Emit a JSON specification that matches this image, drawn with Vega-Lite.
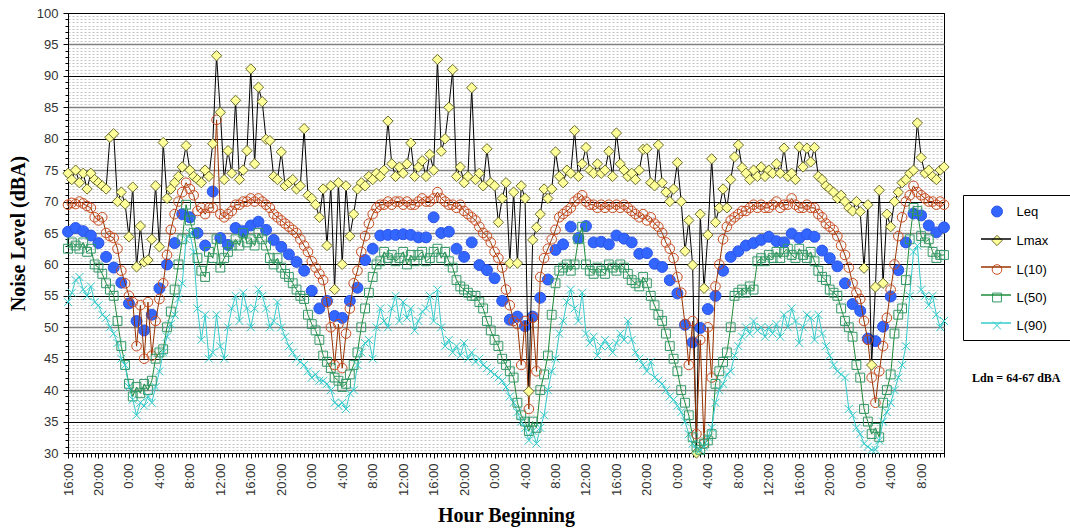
{
"$schema":"https://vega.github.io/schema/vega-lite/v6.json",
"width":876,"height":440,
"autosize":{"type":"none"},
"padding":{"left":68,"top":13,"right":126,"bottom":76},
"background":"white",
"config":{
 "view":{"stroke":"black","strokeWidth":1},
 "axis":{"labelFont":"Liberation Sans","labelFontSize":13,"labelColor":"#333333","titleFont":"Liberation Serif","titleFontWeight":"bold","titleFontSize":20,"titleColor":"black","domainColor":"black","tickColor":"black"},
 "legend":{"labelFont":"Liberation Sans","labelFontSize":13,"labelColor":"black"}
},
"data":{"values":[
{"h":0,"Leq":65.2,"Lmax":74.5,"L10":69.5,"L50":62.5,"L90":54},
{"h":0.5,"Lmax":73.5,"L10":69.8,"L50":63.5,"L90":55.5},
{"h":1,"Leq":65.8,"Lmax":75,"L10":69.6,"L50":63,"L90":57.5},
{"h":1.5,"Lmax":73,"L10":70,"L50":62.5,"L90":58},
{"h":2,"Leq":65.3,"Lmax":74.5,"L10":69.7,"L50":63.5,"L90":56},
{"h":2.5,"Lmax":72,"L10":69.3,"L50":62,"L90":55},
{"h":3,"Leq":64.6,"Lmax":74.5,"L10":69,"L50":62.5,"L90":56.5},
{"h":3.5,"Lmax":73.5,"L10":67.5,"L50":60,"L90":54},
{"h":4,"Leq":63.4,"Lmax":73,"L10":67,"L50":59.5,"L90":53.5},
{"h":4.5,"Lmax":72.5,"L10":67.5,"L50":58.5,"L90":52},
{"h":5,"Leq":61.2,"Lmax":72,"L10":65,"L50":57,"L90":51.5},
{"h":5.5,"Lmax":80.2,"L10":64.5,"L50":56,"L90":50},
{"h":6,"Leq":59.5,"Lmax":80.8,"L10":64.2,"L50":55,"L90":49},
{"h":6.5,"Lmax":70,"L10":62.5,"L50":51,"L90":47.5},
{"h":7,"Leq":57.1,"Lmax":71.5,"L10":59,"L50":47,"L90":45},
{"h":7.5,"Lmax":69.6,"L10":57,"L50":44,"L90":44},
{"h":8,"Leq":53.8,"Lmax":64.4,"L10":55,"L50":41,"L90":40.5},
{"h":8.5,"Lmax":72.3,"L10":54,"L50":39,"L90":38.5},
{"h":9,"Leq":51.0,"Lmax":59.6,"L10":47,"L50":40.5,"L90":36},
{"h":9.5,"Lmax":66.1,"L10":53.5,"L50":39.5,"L90":38},
{"h":10,"Leq":49.5,"Lmax":60.4,"L10":45,"L50":41,"L90":37.5},
{"h":10.5,"Lmax":60.7,"L10":54,"L50":40,"L90":39},
{"h":11,"Leq":52.0,"Lmax":64,"L10":45.5,"L50":41.5,"L90":38},
{"h":11.5,"Lmax":72.5,"L10":51,"L50":45,"L90":40.5},
{"h":12,"Leq":56.2,"Lmax":62.8,"L10":54.5,"L50":46,"L90":43},
{"h":12.5,"Lmax":79.4,"L10":57,"L50":46.5,"L90":46},
{"h":13,"Leq":60.0,"Lmax":70.5,"L10":61.5,"L50":50,"L90":48.5},
{"h":13.5,"Lmax":72,"L10":65.5,"L50":52.5,"L90":50.5},
{"h":14,"Leq":63.4,"Lmax":73,"L10":68,"L50":56,"L90":52},
{"h":14.5,"Lmax":74,"L10":70,"L50":60,"L90":54.5},
{"h":15,"Leq":68.0,"Lmax":75.5,"L10":71.5,"L50":64,"L90":57},
{"h":15.5,"Lmax":78.9,"L10":73,"L50":69.5,"L90":64},
{"h":16,"Leq":67.5,"Lmax":75,"L10":72,"L50":67,"L90":65},
{"h":16.5,"Lmax":74,"L10":71,"L50":65,"L90":62},
{"h":17,"Leq":65.0,"Lmax":73.5,"L10":68.5,"L50":61,"L90":53},
{"h":17.5,"Lmax":73,"L10":69,"L50":59,"L90":48},
{"h":18,"Leq":63.0,"Lmax":75,"L10":68,"L50":58,"L90":52},
{"h":18.5,"Lmax":74,"L10":69,"L50":62,"L90":45},
{"h":19,"Leq":71.6,"Lmax":79.2,"L10":69,"L50":61,"L90":46},
{"h":19.5,"Lmax":93.2,"L10":83,"L50":64,"L90":52},
{"h":20,"Leq":64.2,"Lmax":84.2,"L10":68,"L50":59.5,"L90":47},
{"h":20.5,"Lmax":73.5,"L10":67.5,"L50":61,"L90":45},
{"h":21,"Leq":63.1,"Lmax":78.1,"L10":68,"L50":62,"L90":50},
{"h":21.5,"Lmax":74.5,"L10":68.5,"L50":63,"L90":53},
{"h":22,"Leq":65.8,"Lmax":86.1,"L10":69.5,"L50":64,"L90":55},
{"h":22.5,"Lmax":73.5,"L10":69.5,"L50":63,"L90":51},
{"h":23,"Leq":65.3,"Lmax":75,"L10":70,"L50":65,"L90":55.5},
{"h":23.5,"Lmax":78.1,"L10":70,"L50":63.5,"L90":53},
{"h":24,"Leq":66.2,"Lmax":91.1,"L10":70.5,"L50":64,"L90":50},
{"h":24.5,"Lmax":76,"L10":70,"L50":63,"L90":53},
{"h":25,"Leq":66.8,"Lmax":88.2,"L10":70.5,"L50":65,"L90":56},
{"h":25.5,"Lmax":85.9,"L10":70,"L50":64,"L90":55},
{"h":26,"Leq":65.5,"Lmax":79.9,"L10":69.5,"L50":63,"L90":53},
{"h":26.5,"Lmax":79.7,"L10":69,"L50":61,"L90":50},
{"h":27,"Leq":63.9,"Lmax":74,"L10":68,"L50":60,"L90":51},
{"h":27.5,"Lmax":73.5,"L10":67.5,"L50":61,"L90":54},
{"h":28,"Leq":62.8,"Lmax":77.9,"L10":67,"L50":59.5,"L90":50},
{"h":28.5,"Lmax":72.5,"L10":66.5,"L50":58.5,"L90":48.5},
{"h":29,"Leq":61.6,"Lmax":73,"L10":66,"L50":58,"L90":47},
{"h":29.5,"Lmax":73.5,"L10":65.5,"L50":57,"L90":46},
{"h":30,"Leq":60.4,"Lmax":72,"L10":65,"L50":56,"L90":45},
{"h":30.5,"Lmax":72.5,"L10":64,"L50":55,"L90":44.5},
{"h":31,"Leq":59.0,"Lmax":81.6,"L10":63,"L50":54.5,"L90":44},
{"h":31.5,"Lmax":71,"L10":62,"L50":52,"L90":43},
{"h":32,"Leq":55.8,"Lmax":70.5,"L10":60.5,"L50":50.5,"L90":42},
{"h":32.5,"Lmax":69.5,"L10":59.5,"L50":49.5,"L90":42.5},
{"h":33,"Leq":53.0,"Lmax":67.5,"L10":58.5,"L50":48,"L90":41.5},
{"h":33.5,"Lmax":72,"L10":57.5,"L50":45.5,"L90":41.5},
{"h":34,"Leq":54.2,"Lmax":63,"L10":54,"L50":44.5,"L90":41},
{"h":34.5,"Lmax":72.5,"L10":50,"L50":43.5,"L90":40},
{"h":35,"Leq":51.8,"Lmax":56,"L10":44,"L50":42,"L90":38},
{"h":35.5,"Lmax":73,"L10":50.5,"L50":41.5,"L90":37.5},
{"h":36,"Leq":51.5,"Lmax":60,"L10":43.5,"L50":40.5,"L90":38},
{"h":36.5,"Lmax":72.5,"L10":49,"L50":41,"L90":37},
{"h":37,"Leq":54.2,"Lmax":64.5,"L10":53,"L50":42.5,"L90":39.5},
{"h":37.5,"Lmax":68,"L10":57,"L50":44,"L90":40},
{"h":38,"Leq":56.3,"Lmax":72,"L10":59,"L50":46,"L90":44},
{"h":38.5,"Lmax":73,"L10":62,"L50":50,"L90":46},
{"h":39,"Leq":60.7,"Lmax":72.5,"L10":64.5,"L50":53,"L90":47.5},
{"h":39.5,"Lmax":74,"L10":66.5,"L50":55.5,"L90":48},
{"h":40,"Leq":62.5,"Lmax":73.5,"L10":68,"L50":58,"L90":45},
{"h":40.5,"Lmax":74.5,"L10":69,"L50":60,"L90":50},
{"h":41,"Leq":64.6,"Lmax":74,"L10":69.5,"L50":60.5,"L90":53},
{"h":41.5,"Lmax":75,"L10":69.5,"L50":62,"L90":51},
{"h":42,"Leq":64.7,"Lmax":82.8,"L10":70,"L50":61,"L90":50},
{"h":42.5,"Lmax":76,"L10":69.5,"L50":61.5,"L90":53},
{"h":43,"Leq":64.7,"Lmax":74,"L10":70,"L50":60.5,"L90":55},
{"h":43.5,"Lmax":75.5,"L10":70,"L50":61,"L90":51},
{"h":44,"Leq":64.8,"Lmax":74.5,"L10":69.5,"L50":62,"L90":54},
{"h":44.5,"Lmax":76,"L10":70,"L50":60,"L90":51.5},
{"h":45,"Leq":64.7,"Lmax":79.3,"L10":69.5,"L50":61.5,"L90":53},
{"h":45.5,"Lmax":74,"L10":69.5,"L50":60.5,"L90":49.5},
{"h":46,"Leq":64.3,"Lmax":75.5,"L10":70,"L50":61.5,"L90":51},
{"h":46.5,"Lmax":76.5,"L10":70.5,"L50":62,"L90":52.5},
{"h":47,"Leq":64.3,"Lmax":74,"L10":70,"L50":60.5,"L90":53},
{"h":47.5,"Lmax":77.5,"L10":70,"L50":61,"L90":55},
{"h":48,"Leq":67.5,"Lmax":75,"L10":70.5,"L50":62,"L90":51},
{"h":48.5,"Lmax":92.6,"L10":71.5,"L50":62.5,"L90":56},
{"h":49,"Leq":65.0,"Lmax":78,"L10":70.5,"L50":61,"L90":50},
{"h":49.5,"Lmax":80,"L10":70,"L50":62,"L90":47},
{"h":50,"Leq":65.2,"Lmax":85,"L10":69.5,"L50":60.5,"L90":48},
{"h":50.5,"Lmax":91,"L10":69.5,"L50":59.5,"L90":46},
{"h":51,"Leq":62.5,"Lmax":74,"L10":69,"L50":57.5,"L90":47},
{"h":51.5,"Lmax":75.5,"L10":69.5,"L50":56.5,"L90":45.5},
{"h":52,"Leq":61.2,"Lmax":73,"L10":68.5,"L50":56,"L90":47.5},
{"h":52.5,"Lmax":74,"L10":68,"L50":55.5,"L90":45},
{"h":53,"Leq":63.5,"Lmax":88.1,"L10":67.5,"L50":55,"L90":46},
{"h":53.5,"Lmax":73.5,"L10":67,"L50":55,"L90":44.5},
{"h":54,"Leq":59.9,"Lmax":74.5,"L10":66,"L50":54,"L90":45},
{"h":54.5,"Lmax":72.5,"L10":65,"L50":53,"L90":44},
{"h":55,"Leq":59.1,"Lmax":78.4,"L10":64.5,"L50":51,"L90":43.5},
{"h":55.5,"Lmax":73,"L10":63.5,"L50":49.5,"L90":43},
{"h":56,"Leq":57.8,"Lmax":72.5,"L10":62,"L50":48,"L90":42.5},
{"h":56.5,"Lmax":66.7,"L10":61,"L50":47,"L90":42},
{"h":57,"Leq":54.2,"Lmax":70.5,"L10":59.5,"L50":45,"L90":41.5},
{"h":57.5,"Lmax":73,"L10":56,"L50":44,"L90":40.5},
{"h":58,"Leq":51.2,"Lmax":60.2,"L10":53.5,"L50":43,"L90":39},
{"h":58.5,"Lmax":71.5,"L10":51,"L50":42,"L90":38},
{"h":59,"Leq":51.7,"Lmax":60.2,"L10":50.5,"L50":38,"L90":36.5},
{"h":59.5,"Lmax":72.5,"L10":44,"L50":36,"L90":35},
{"h":60,"Leq":50.2,"Lmax":70.5,"L10":51,"L50":35,"L90":34},
{"h":60.5,"Lmax":39.8,"L10":37,"L50":33.5,"L90":32},
{"h":61,"Leq":51.7,"Lmax":63.9,"L10":51.5,"L50":35,"L90":33.5},
{"h":61.5,"Lmax":65.9,"L10":43,"L50":34,"L90":31.5},
{"h":62,"Leq":54.7,"Lmax":68,"L10":58,"L50":40,"L90":34},
{"h":62.5,"Lmax":72,"L10":61,"L50":42.5,"L90":36},
{"h":63,"Leq":57.6,"Lmax":70.5,"L10":62.5,"L50":45.5,"L90":40},
{"h":63.5,"Lmax":72,"L10":64,"L50":52,"L90":43},
{"h":64,"Leq":62.3,"Lmax":77.9,"L10":65.5,"L50":57,"L90":45},
{"h":64.5,"Lmax":74,"L10":67.5,"L50":59,"L90":49},
{"h":65,"Leq":63.2,"Lmax":73,"L10":68,"L50":59.5,"L90":51},
{"h":65.5,"Lmax":75,"L10":68.5,"L50":60,"L90":54},
{"h":66,"Leq":66.0,"Lmax":74.5,"L10":69,"L50":59,"L90":56},
{"h":66.5,"Lmax":81.3,"L10":70,"L50":60,"L90":53},
{"h":67,"Leq":64.2,"Lmax":74,"L10":70.5,"L50":64,"L90":51},
{"h":67.5,"Lmax":76,"L10":71,"L50":66,"L90":55.5},
{"h":68,"Leq":66.1,"Lmax":78.6,"L10":70,"L50":60,"L90":49},
{"h":68.5,"Lmax":75,"L10":69.5,"L50":59,"L90":47.5},
{"h":69,"Leq":63.5,"Lmax":74.5,"L10":69.5,"L50":58.5,"L90":48.5},
{"h":69.5,"Lmax":76,"L10":69,"L50":59.5,"L90":45.5},
{"h":70,"Leq":63.6,"Lmax":74.5,"L10":69.5,"L50":59,"L90":47},
{"h":70.5,"Lmax":75,"L10":69,"L50":58.5,"L90":48},
{"h":71,"Leq":63.2,"Lmax":78,"L10":69.5,"L50":60,"L90":47},
{"h":71.5,"Lmax":74,"L10":69,"L50":59.5,"L90":46},
{"h":72,"Leq":64.6,"Lmax":80.9,"L10":69.5,"L50":59,"L90":47.5},
{"h":72.5,"Lmax":76,"L10":69,"L50":60,"L90":49},
{"h":73,"Leq":64.1,"Lmax":75,"L10":69.5,"L50":59.5,"L90":48},
{"h":73.5,"Lmax":74,"L10":69,"L50":58.5,"L90":51},
{"h":74,"Leq":63.5,"Lmax":74.5,"L10":68.5,"L50":57.5,"L90":48},
{"h":74.5,"Lmax":73.5,"L10":68,"L50":57,"L90":46},
{"h":75,"Leq":61.7,"Lmax":75,"L10":67.5,"L50":56.5,"L90":45},
{"h":75.5,"Lmax":78.3,"L10":68,"L50":58,"L90":44},
{"h":76,"Leq":61.8,"Lmax":78.4,"L10":67,"L50":57,"L90":43},
{"h":76.5,"Lmax":73,"L10":67.5,"L50":55,"L90":44.5},
{"h":77,"Leq":60.1,"Lmax":72.5,"L10":66.5,"L50":53.5,"L90":42},
{"h":77.5,"Lmax":79,"L10":66,"L50":52,"L90":41.5},
{"h":78,"Leq":59.6,"Lmax":73,"L10":65,"L50":51,"L90":41},
{"h":78.5,"Lmax":71.5,"L10":63.5,"L50":49,"L90":40},
{"h":79,"Leq":57.5,"Lmax":70,"L10":62.5,"L50":47,"L90":39},
{"h":79.5,"Lmax":72,"L10":61,"L50":45,"L90":38.5},
{"h":80,"Leq":55.4,"Lmax":76.2,"L10":58,"L50":43,"L90":37.5},
{"h":80.5,"Lmax":70,"L10":55.5,"L50":40,"L90":36.5},
{"h":81,"Leq":50.4,"Lmax":62.1,"L10":50.5,"L50":38,"L90":35},
{"h":81.5,"Lmax":67,"L10":44,"L50":36,"L90":33},
{"h":82,"Leq":47.6,"Lmax":59.9,"L10":51,"L50":32.5,"L90":31.5},
{"h":82.5,"Lmax":30,"L10":33,"L50":31,"L90":30.5},
{"h":83,"Leq":49.9,"Lmax":68,"L10":48,"L50":30.5,"L90":30.5},
{"h":83.5,"Lmax":56.2,"L10":31.5,"L50":31.5,"L90":31},
{"h":84,"Leq":52.9,"Lmax":64.7,"L10":50,"L50":32,"L90":32.5},
{"h":84.5,"Lmax":76.8,"L10":42,"L50":33,"L90":34},
{"h":85,"Leq":55.0,"Lmax":66.7,"L10":56.5,"L50":41,"L90":38},
{"h":85.5,"Lmax":69,"L10":60,"L50":43,"L90":40},
{"h":86,"Leq":59.0,"Lmax":72,"L10":64,"L50":44.5,"L90":41},
{"h":86.5,"Lmax":69,"L10":66,"L50":46,"L90":42.5},
{"h":87,"Leq":61.2,"Lmax":73.5,"L10":67,"L50":50,"L90":43},
{"h":87.5,"Lmax":77.1,"L10":67.5,"L50":55,"L90":45.5},
{"h":88,"Leq":62.1,"Lmax":79,"L10":68,"L50":55.5,"L90":47},
{"h":88.5,"Lmax":75.4,"L10":68.5,"L50":56,"L90":48.5},
{"h":89,"Leq":63.0,"Lmax":74.5,"L10":68.5,"L50":55.5,"L90":50},
{"h":89.5,"Lmax":73.5,"L10":69,"L50":56.5,"L90":49},
{"h":90,"Leq":63.4,"Lmax":75,"L10":69.5,"L50":56,"L90":51},
{"h":90.5,"Lmax":74,"L10":69,"L50":60.5,"L90":49.5},
{"h":91,"Leq":63.9,"Lmax":75.5,"L10":69.5,"L50":61,"L90":50},
{"h":91.5,"Lmax":74,"L10":69,"L50":60.5,"L90":48.5},
{"h":92,"Leq":64.4,"Lmax":75,"L10":69,"L50":61.5,"L90":50},
{"h":92.5,"Lmax":74.5,"L10":69.5,"L50":61,"L90":49},
{"h":93,"Leq":63.7,"Lmax":76,"L10":70,"L50":62,"L90":50.5},
{"h":93.5,"Lmax":74.5,"L10":69,"L50":61,"L90":48.5},
{"h":94,"Leq":63.5,"Lmax":78.5,"L10":69.5,"L50":62,"L90":52},
{"h":94.5,"Lmax":74,"L10":69.5,"L50":62.5,"L90":50},
{"h":95,"Leq":64.9,"Lmax":74.5,"L10":70.5,"L50":61.5,"L90":53},
{"h":95.5,"Lmax":73.5,"L10":69.5,"L50":61,"L90":51},
{"h":96,"Leq":64.2,"Lmax":78.7,"L10":69,"L50":62.5,"L90":47.5},
{"h":96.5,"Lmax":75.5,"L10":69,"L50":61.5,"L90":50},
{"h":97,"Leq":64.8,"Lmax":78.5,"L10":69.5,"L50":61,"L90":52},
{"h":97.5,"Lmax":76.3,"L10":69,"L50":62,"L90":51.5},
{"h":98,"Leq":64.4,"Lmax":78.6,"L10":69,"L50":60.5,"L90":48},
{"h":98.5,"Lmax":74,"L10":68,"L50":59,"L90":52},
{"h":99,"Leq":62.2,"Lmax":73.5,"L10":67.5,"L50":58,"L90":49},
{"h":99.5,"Lmax":72.5,"L10":66.5,"L50":57.5,"L90":47},
{"h":100,"Leq":61.0,"Lmax":72,"L10":66,"L50":56,"L90":45.5},
{"h":100.5,"Lmax":71.5,"L10":65.5,"L50":55.5,"L90":44},
{"h":101,"Leq":59.7,"Lmax":70.5,"L10":64.5,"L50":55,"L90":43},
{"h":101.5,"Lmax":71,"L10":63,"L50":53,"L90":42.5},
{"h":102,"Leq":57.0,"Lmax":70,"L10":61.5,"L50":51,"L90":42},
{"h":102.5,"Lmax":69,"L10":59.5,"L50":50,"L90":37},
{"h":103,"Leq":53.7,"Lmax":68.5,"L10":57,"L50":48.5,"L90":36},
{"h":103.5,"Lmax":70,"L10":55.5,"L50":44,"L90":34},
{"h":104,"Leq":52.6,"Lmax":68.4,"L10":54.5,"L50":42,"L90":33},
{"h":104.5,"Lmax":59.4,"L10":51,"L50":37,"L90":31.5},
{"h":105,"Leq":48.2,"Lmax":69.5,"L10":48,"L50":35,"L90":31},
{"h":105.5,"Lmax":44,"L10":42,"L50":33,"L90":30.5},
{"h":106,"Leq":47.8,"Lmax":56.4,"L10":38,"L50":34,"L90":30.5},
{"h":106.5,"Lmax":71.8,"L10":43,"L50":32.5,"L90":32},
{"h":107,"Leq":50.1,"Lmax":57,"L10":47,"L50":38,"L90":35},
{"h":107.5,"Lmax":68,"L10":51.5,"L50":40,"L90":36.5},
{"h":108,"Leq":54.9,"Lmax":66,"L10":56,"L50":42.5,"L90":38},
{"h":108.5,"Lmax":70,"L10":60,"L50":49,"L90":40},
{"h":109,"Leq":59.1,"Lmax":71.5,"L10":64.5,"L50":52,"L90":42},
{"h":109.5,"Lmax":73,"L10":67.5,"L50":53,"L90":44},
{"h":110,"Leq":63.5,"Lmax":73.5,"L10":70,"L50":57.5,"L90":47},
{"h":110.5,"Lmax":74.5,"L10":71,"L50":64,"L90":55},
{"h":111,"Leq":68.1,"Lmax":75,"L10":72.5,"L50":69,"L90":62},
{"h":111.5,"Lmax":82.5,"L10":71.5,"L50":68.5,"L90":63},
{"h":112,"Leq":67.8,"Lmax":77,"L10":71,"L50":64.5,"L90":56},
{"h":112.5,"Lmax":74.5,"L10":70.5,"L50":63.5,"L90":55},
{"h":113,"Leq":66.2,"Lmax":75,"L10":70,"L50":64,"L90":53.5},
{"h":113.5,"Lmax":74,"L10":70,"L50":62,"L90":55},
{"h":114,"Leq":65.1,"Lmax":73.5,"L10":69.5,"L50":61,"L90":52},
{"h":114.5,"Lmax":75,"L10":70,"L50":61.5,"L90":50},
{"h":115,"Leq":65.9,"Lmax":75.5,"L10":69.5,"L50":61.5,"L90":51}
]},
"transform":[
 {"fold":["Leq","Lmax","L10","L50","L90"],"as":["series","v"]},
 {"filter":"isValid(datum.v)"}
],
"resolve":{"axis":{"x":"independent","y":"independent"}},
"layer":[
 {
  "transform":[{"filter":"datum.series == 'Leq'"}],
  "mark":{"type":"point","filled":true,"opacity":1,"strokeWidth":1},
  "encoding":{
   "x":{"field":"h","type":"quantitative","scale":{"domain":[0,115],"nice":false,"zero":false},
        "axis":{"orient":"bottom","tickCount":230,"labels":false,"tickSize":4,"grid":false,"domain":false,"title":null}},
   "y":{"field":"v","type":"quantitative","scale":{"domain":[30,100],"nice":false,"zero":false},
        "axis":{"orient":"left","tickCount":140,"labels":false,"ticks":false,"domain":false,"grid":true,"gridColor":"#c4c4c4","gridDash":[2,2],"gridWidth":1,"title":null}},
   "fill":{"field":"series","type":"nominal","scale":{"domain":["Leq","Lmax","L10","L50","L90"],"range":["#3366ff","#ffff99","transparent","transparent","transparent"]},
     "legend":{"orient":"none","legendX":904,"legendY":192,"padding":0,"symbolOffset":18.5,"labelOffset":13,"rowPadding":14,"symbolStrokeWidth":1,
       "labelExpr":"datum.label == 'L10' ? 'L(10)' : datum.label == 'L50' ? 'L(50)' : datum.label == 'L90' ? 'L(90)' : datum.label",
       "title":"Ldn = 64-67 dBA","titleOrient":"bottom","titlePadding":40,"titleFont":"Liberation Serif","titleFontWeight":"bold","titleFontSize":12,"titleColor":"black"}},
   "stroke":{"field":"series","type":"nominal","scale":{"domain":["Leq","Lmax","L10","L50","L90"],"range":["#2b55e8","#6b6b2f","#c84b1e","#339966","#33cccc"]}},
   "shape":{"field":"series","type":"nominal","scale":{"domain":["Leq","Lmax","L10","L50","L90"],"range":["circle","diamond","circle","square","M-1,-1L1,1M-1,1L1,-1"]}},
   "size":{"field":"series","type":"nominal","scale":{"domain":["Leq","Lmax","L10","L50","L90"],"range":[120,64,30,36,30]}}
  }
 },
 {
  "mark":{"type":"line","strokeWidth":1},
  "encoding":{
   "x":{"field":"h","type":"quantitative",
        "axis":{"orient":"bottom","values":[0,4,8,12,16,20,24,28,32,36,40,44,48,52,56,60,64,68,72,76,80,84,88,92,96,100,104,108,112],
                "labelExpr":"((datum.value + 16) % 24) + ':00'","labelAngle":-90,"tickSize":5,"labelPadding":5,"grid":false,
                "title":"Hour Beginning","titleX":438,"titleY":62,"titleBaseline":"middle","titleAlign":"center"}},
   "y":{"field":"v","type":"quantitative",
        "axis":{"orient":"left","values":[30,35,40,45,50,55,60,65,70,75,80,85,90,95,100],"tickSize":5,"labelPadding":5,"grid":true,
                "gridColor":{"condition":{"test":"indexof([95,85,75,65,50,40], datum.value) >= 0","value":"#808080"},"value":"#000000"},
                "gridWidth":{"condition":{"test":"indexof([95,85,75,65,50,40], datum.value) >= 0","value":1.6},"value":1},
                "title":"Noise Level (dBA)","titleX":-50,"titleY":220,"titleBaseline":"middle","titleAlign":"center"}},
   "color":{"field":"series","type":"nominal","sort":["Leq","Lmax","L10","L50","L90"],
     "scale":{"range":["transparent","#000000","#993300","#1e8c3a","#33cccc"]},
     "legend":{"orient":"none","legendX":895,"legendY":182,"padding":9.5,"symbolType":"M-3,0H3","symbolSize":100,"symbolStrokeWidth":1.5,"symbolFillColor":"transparent","symbolOffset":17,"rowPadding":14,"labelOffset":66,"labelExpr":"''","strokeColor":"black","title":null}}
  }
 },
 {
  "transform":[{"filter":"datum.series != 'Leq'"}],
  "mark":{"type":"point","filled":true,"opacity":1,"strokeWidth":1},
  "encoding":{
   "x":{"field":"h","type":"quantitative","axis":null},
   "y":{"field":"v","type":"quantitative","axis":{"orient":"left","tickCount":70,"labels":false,"tickSize":3,"grid":false,"domain":false,"title":null}},
   "fill":{"field":"series","type":"nominal","scale":{"domain":["Leq","Lmax","L10","L50","L90"],"range":["#3366ff","#ffff99","transparent","transparent","transparent"]}},
   "stroke":{"field":"series","type":"nominal","scale":{"domain":["Leq","Lmax","L10","L50","L90"],"range":["#2b55e8","#6b6b2f","#c84b1e","#339966","#33cccc"]}},
   "shape":{"field":"series","type":"nominal","scale":{"domain":["Leq","Lmax","L10","L50","L90"],"range":["circle","diamond","circle","square","M-1,-1L1,1M-1,1L1,-1"]}},
   "size":{"field":"series","type":"nominal","scale":{"domain":["Leq","Lmax","L10","L50","L90"],"range":[120,64,30,36,30]}}
  }
 }
]
}
